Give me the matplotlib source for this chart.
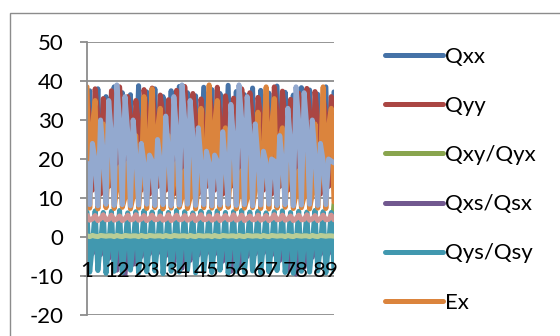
import matplotlib
matplotlib.use("Agg")
import matplotlib.pyplot as plt
from matplotlib.patches import Rectangle

plt.rcParams['font.family'] = ['Lato', 'DejaVu Sans']

# x categories 1..92
categories = list(range(1, 93))
x_tick_labels = ["1", "12", "23", "34", "45", "56", "67", "78", "89"]
y_ticks = [-20, -10, 0, 10, 20, 30, 40, 50]

qxx = [18, 37.5, 14, 19, 38, 15, 17, 36, 13, 18, 38.5, 14, 19, 37, 15, 17, 36.5, 13,
       18, 38.8, 14, 19, 37.2, 15, 17, 38, 13, 18, 36, 14, 19, 37.5, 15, 17, 38.6, 13,
       18, 37, 14, 19, 36.2, 15, 17, 38.4, 13, 18, 37.8, 14, 19, 36.8, 15, 17, 38.9, 13,
       18, 37.3, 14, 19, 36.5, 15, 17, 38.2, 13, 18, 37.6, 14, 19, 36.9, 15, 17, 38.7, 13,
       18, 37.1, 14, 19, 36.4, 15, 17, 38.3, 13, 18, 37.7, 14, 19, 36.6, 15, 17, 38.5, 13,
       18, 37.2]

qyy = [36.5, 30, 12, 38, 31, 11, 35.5, 29, 13, 37.5, 32, 12, 38.5, 30, 11, 36, 31, 13,
       35, 29, 12, 37.8, 32, 11, 38.2, 30, 13, 36.4, 31, 12, 35.2, 29, 11, 37.6, 32, 13,
       38.6, 30, 12, 36.8, 31, 11, 35.4, 29, 13, 37.2, 32, 12, 38.4, 30, 11, 36.2, 31, 13,
       35.6, 29, 12, 38, 32, 11, 37, 30, 13, 35.8, 31, 12, 36.6, 29, 11, 38.5, 32, 13,
       37.4, 30, 12, 35.3, 31, 11, 36.9, 29, 13, 38.1, 32, 12, 37.3, 30, 11, 35.9, 31, 13,
       36, 28.5]

qxy_qyx = [0.3, 0.2, 0.4, 0.3, 0.1, 0.4, 0.2, 0.2, 0.5, 0.3, 0.2, 0.4, 0.3, 0.1, 0.3, 0.2, 0.2, 0.4,
           0.3, 0.2, 0.5, 0.3, 0.1, 0.4, 0.2, 0.2, 0.4, 0.3, 0.2, 0.3, 0.3, 0.1, 0.4, 0.2, 0.2, 0.5,
           0.3, 0.2, 0.4, 0.3, 0.1, 0.4, 0.2, 0.2, 0.3, 0.3, 0.2, 0.4, 0.3, 0.1, 0.5, 0.2, 0.2, 0.4,
           0.3, 0.2, 0.4, 0.3, 0.1, 0.3, 0.2, 0.2, 0.4, 0.3, 0.2, 0.5, 0.3, 0.1, 0.4, 0.2, 0.2, 0.4,
           0.3, 0.2, 0.3, 0.3, 0.1, 0.4, 0.2, 0.2, 0.5, 0.3, 0.2, 0.4, 0.3, 0.1, 0.4, 0.2, 0.2, 0.3,
           0.3, 8.5]

qxs_qsx = [-1.5, -2.5, -4.2, -1.4, -2.6, -4.5, -1.6, -2.4, -5.5, -1.5, -2.5, -8.5, -1.3, -2.7, -9.6,
           -1.6, -2.4, -7.0, -1.5, -2.5, -5.0, -1.4, -2.6, -4.3, -1.6, -2.4, -4.1, -1.5, -2.5, -4.8,
           -1.3, -2.7, -6.5, -1.6, -2.4, -8.0, -1.5, -2.5, -6.0, -1.4, -2.6, -4.6, -1.6, -2.4, -4.2,
           -1.5, -2.5, -4.4, -1.3, -2.7, -6.2, -1.6, -2.4, -8.8, -1.5, -2.5, -7.5, -1.4, -2.6, -5.0,
           -1.6, -2.4, -4.3, -1.5, -2.5, -4.1, -1.3, -2.7, -4.6, -1.6, -2.4, -6.0, -1.5, -2.5, -8.4,
           -1.4, -2.6, -9.5, -1.6, -2.4, -7.8, -1.5, -2.5, -5.2, -1.3, -2.7, -4.4, -1.6, -2.4, -4.2,
           -1.5, -2.5]

qys_qsy = [6.4, -9.0, -2.0, 6.7, -8.6, -1.6, 6.3, -9.3, -2.3, 6.6, -8.8, -1.8, 6.8, -9.1, -2.1,
           6.2, -8.5, -1.7, 6.5, -9.2, -2.2, 6.7, -8.9, -1.9, 6.4, -8.7, -2.0, 6.6, -9.4, -1.6,
           6.3, -8.8, -2.3, 6.8, -9.0, -1.8, 6.5, -8.6, -2.1, 6.2, -9.2, -1.7, 6.6, -8.9, -2.2,
           6.4, -9.1, -1.9, 6.7, -8.5, -2.0, 6.3, -9.3, -1.6, 6.5, -8.8, -2.3, 6.8, -9.0, -1.8,
           6.4, -8.7, -2.1, 6.6, -9.2, -1.7, 6.2, -8.9, -2.2, 6.5, -8.6, -1.9, 6.7, -9.1, -2.0,
           6.3, -9.3, -1.6, 6.6, -8.8, -2.3, 6.4, -9.0, -1.8, 6.8, -8.7, -2.1, 6.5, -9.2, -1.7,
           6.3, -8.8]

ex = [38.5, 7.4, 28.5, 35, 7.2, 25, 29, 7.5, 19, 23, 7.3, 13, 18, 7.6, 10.1, 19, 7.2, 10.3,
      26, 7.4, 16, 36, 7.3, 26, 38, 7.5, 28, 33, 7.2, 23, 26, 7.4, 16, 19, 7.6, 10.2,
      17, 7.3, 10.1, 23, 7.2, 13, 33, 7.5, 23, 39, 7.4, 29, 35, 7.3, 25, 28, 7.6, 18,
      21, 7.2, 11, 17, 7.4, 9.9, 22, 7.5, 12, 32, 7.3, 22, 38.5, 7.2, 28.5, 35.5, 7.4, 25.5,
      28, 7.6, 18, 21, 7.3, 11, 17, 7.5, 10.4, 21, 7.2, 11, 29, 7.4, 19, 38.5, 7.3, 28.5,
      33, 9.0]

ey = [19, 8.3, 24, 19.5, 8.0, 30, 21, 8.4, 35, 26, 8.1, 39, 30, 8.3, 36, 27, 8.0, 30,
      21, 8.2, 24, 19, 8.4, 21, 19.5, 8.1, 25, 19, 8.3, 31, 22, 8.0, 36, 27, 8.2, 39,
      30, 8.4, 35, 26, 8.1, 28, 19.5, 8.3, 22, 19, 8.0, 21, 19.5, 8.2, 27, 19, 8.4, 34,
      25, 8.1, 39, 30, 8.3, 36, 27, 8.0, 29, 20, 8.2, 22, 19, 8.4, 20, 19.5, 8.1, 26,
      19, 8.3, 33, 24, 8.0, 38.5, 29.5, 8.2, 37, 28, 8.4, 30, 21, 8.1, 24, 19.5, 8.3, 20,
      19.5, 19]

exy = [5.6, 4.3, 4.6, 5.5, 4.2, 4.7, 5.7, 4.4, 4.5, 5.6, 4.3, 4.6, 5.4, 4.2, 4.7, 5.6, 4.4, 4.5,
       5.7, 4.3, 4.6, 5.5, 4.2, 4.7, 5.6, 4.4, 4.5, 5.4, 4.3, 4.6, 5.7, 4.2, 4.7, 5.6, 4.4, 4.5,
       5.5, 4.3, 4.6, 5.6, 4.2, 4.7, 5.7, 4.4, 4.5, 5.4, 4.3, 4.6, 5.6, 4.2, 4.7, 5.5, 4.4, 4.5,
       5.7, 4.3, 4.6, 5.6, 4.2, 4.7, 5.4, 4.4, 4.5, 5.6, 4.3, 4.6, 5.5, 4.2, 4.7, 5.7, 4.4, 4.5,
       5.6, 4.3, 4.6, 5.4, 4.2, 4.7, 5.6, 4.4, 4.5, 5.7, 4.3, 4.6, 5.5, 4.2, 4.7, 5.6, 4.4, 4.5,
       5.6, 4.4]

es = [0.3, 0.1, 0.4, 0.2, 0.1, 0.4, 0.3, 0.2, 0.3, 0.3, 0.1, 0.4, 0.2, 0.1, 0.4, 0.3, 0.2, 0.3,
      0.3, 0.1, 0.4, 0.2, 0.1, 0.4, 0.3, 0.2, 0.3, 0.3, 0.1, 0.4, 0.2, 0.1, 0.4, 0.3, 0.2, 0.3,
      0.3, 0.1, 0.4, 0.2, 0.1, 0.4, 0.3, 0.2, 0.3, 0.3, 0.1, 0.4, 0.2, 0.1, 0.4, 0.3, 0.2, 0.3,
      0.3, 0.1, 0.4, 0.2, 0.1, 0.4, 0.3, 0.2, 0.3, 0.3, 0.1, 0.4, 0.2, 0.1, 0.4, 0.3, 0.2, 0.3,
      0.3, 0.1, 0.4, 0.2, 0.1, 0.4, 0.3, 0.2, 0.3, 0.3, 0.1, 0.4, 0.2, 0.1, 0.4, 0.3, 0.2, 0.3,
      0.3, 0.2]

series = [
    ("Qxx", qxx, "#4572A7"),
    ("Qyy", qyy, "#AA4643"),
    ("Qxy/Qyx", qxy_qyx, "#89A54E"),
    ("Qxs/Qsx", qxs_qsx, "#71588F"),
    ("Qys/Qsy", qys_qsy, "#4198AF"),
    ("Ex", ex, "#DB843D"),
    ("Ey", ey, "#93A9CF"),
    ("Exy", exy, "#D19392"),
    ("Es", es, "#B9CD96"),
]

grid_color = "#8C8C8C"
fs = 16

fig = plt.figure(figsize=(5.6, 3.36), dpi=100)
fig.patch.set_facecolor("white")

# chart-area frame
fig.add_artist(Rectangle((10 / 560, -0.1), 1.2, 1 - 13 / 336 + 0.1,
                         transform=fig.transFigure, fill=False,
                         edgecolor=grid_color, linewidth=1.0))

ax = fig.add_axes([87 / 560, 1 - 315 / 336, 247 / 560, 273 / 336])
ax.set_facecolor("none")
ax.set_axisbelow(False)

for yv in y_ticks:
    ax.axhline(yv, color=grid_color, linewidth=1.3, zorder=1)

handles = []
for name, vals, col in series:
    ln, = ax.plot(categories, vals, color=col, linewidth=3.6,
                  solid_capstyle="round", solid_joinstyle="round",
                  label=name, zorder=2)
    handles.append(ln)

ax.set_xlim(categories[0], categories[-1])
ax.set_ylim(-20, 50)
ax.set_yticks(y_ticks)
ax.set_yticklabels([str(v) for v in y_ticks])
ax.set_xticks([int(s) for s in x_tick_labels])
ax.set_xticklabels(x_tick_labels)

for side in ("top", "right"):
    ax.spines[side].set_visible(False)
ax.spines["left"].set_color(grid_color)
ax.spines["left"].set_linewidth(1.3)
ax.spines["bottom"].set_position(("data", 0))
ax.spines["bottom"].set_color("none")

ax.tick_params(axis="y", length=5, width=1.3, color=grid_color, pad=12, labelsize=fs)
ax.tick_params(axis="x", length=0, pad=17, labelsize=fs)

leg = fig.legend(handles[:6], [s[0] for s in series[:6]],
                 loc="upper left", bbox_to_anchor=(385 / 560, 1 - 47 / 336),
                 frameon=False, fontsize=fs, handlelength=2.6,
                 handletextpad=0.1, labelspacing=1.31,
                 borderpad=0, borderaxespad=0)
for h in leg.get_lines():
    h.set_linewidth(3.6)
    h.set_solid_capstyle("round")

fig.savefig("out.png", dpi=100)
